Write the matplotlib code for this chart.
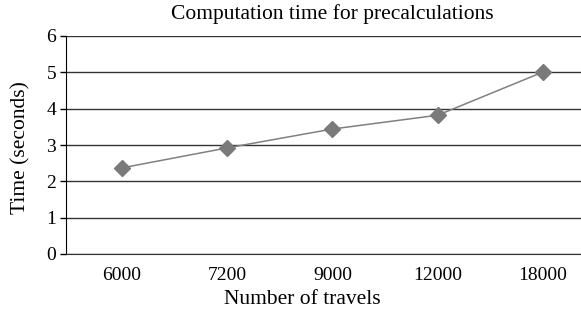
import matplotlib.pyplot as plt

travels = ['6000', '7200', '9000', '12000', '18000']
times = [2.37, 2.92, 3.44, 3.82, 5.01]

plt.rcParams['font.family'] = 'Liberation Serif'

fig = plt.figure(figsize=(5.81, 3.16), dpi=100)
ax = fig.add_axes([66 / 581, 62 / 316, 515 / 581, 218 / 316])

x = range(len(travels))
ax.plot(x, times, color='#808080', lw=1.1, marker='D', ms=8,
        markerfacecolor='#7a7a7a', markeredgecolor='#7a7a7a', zorder=3)

ax.set_xlim(-0.53, 4.36)
ax.set_ylim(0, 6)
ax.set_yticks(range(7))
ax.set_xticks(list(x))
ax.set_xticklabels(travels)
ax.grid(axis='y', color='#333333', lw=1)
ax.set_axisbelow(True)

for s in ['top', 'right']:
    ax.spines[s].set_visible(False)
ax.spines['left'].set_color('black')
ax.spines['bottom'].set_color('#333333')
ax.tick_params(axis='y', length=4, width=1, labelsize=14, pad=3)
ax.tick_params(axis='x', length=0, labelsize=14, pad=9)

fig.text(332 / 581, 1 - 14 / 316, 'Computation time for precalculations',
         ha='center', va='center', fontsize=15.5)
fig.text(302 / 581, 1 - 300 / 316, 'Number of travels',
         ha='center', va='center', fontsize=15.5)
fig.text(21 / 581, 1 - 148 / 316, 'Time (seconds)', rotation=90,
         ha='center', va='center', fontsize=15.5)

fig.savefig('out.png', dpi=100)
